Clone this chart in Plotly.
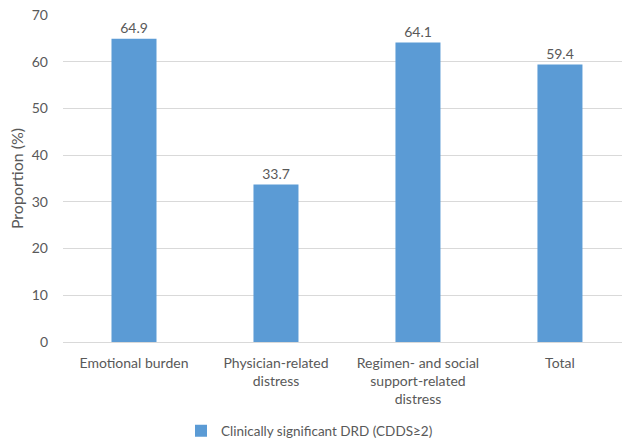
import plotly.graph_objects as go

categories = ["Emotional burden", "Physician-related<br>distress",
              "Regimen- and social<br>support-related<br>distress", "Total"]
proportions = [64.9, 33.7, 64.1, 59.4]
series_name = "Clinically significant DRD (CDDS≥2)"
y_ticks = [0, 10, 20, 30, 40, 50, 60, 70]

font_family = "Lato, Carlito, 'Liberation Sans', sans-serif"
text_color = "#595959"
bar_color = "#5B9BD5"

fig = go.Figure()
fig.add_trace(go.Bar(
    x=list(range(len(categories))),
    y=proportions,
    name=series_name,
    marker=dict(color=bar_color, line=dict(width=0)),
    width=0.317,
    text=[f"{v:.1f}" for v in proportions],
    textposition="outside",
    textfont=dict(size=14, color=text_color, family=font_family),
    cliponaxis=False,
    showlegend=True,
))

fig.update_layout(
    width=622, height=439,
    margin=dict(l=63, r=0, t=15, b=97),
    paper_bgcolor="white", plot_bgcolor="white",
    font=dict(family=font_family, size=14, color=text_color),
    xaxis=dict(
        tickmode="array",
        tickvals=list(range(len(categories))),
        ticktext=categories,
        range=[-0.5, 3.437],
        showgrid=False, zeroline=False,
        showline=False, ticks="",
        ticklabelstandoff=11,
        automargin=False,
        tickfont=dict(size=14, color=text_color),
    ),
    yaxis=dict(
        range=[0, 70],
        tickvals=y_ticks,
        showgrid=True, gridcolor="#D9D9D9", gridwidth=1,
        zeroline=True, zerolinecolor="#D9D9D9", zerolinewidth=1,
        showline=False, ticks="",
        ticklabelstandoff=14,
        automargin=False,
        title=dict(text="Proportion (%)", font=dict(size=16, color=text_color), standoff=4),
        tickfont=dict(size=14, color=text_color),
    ),
    legend=dict(
        orientation="h",
        xref="container", yref="container",
        x=0.291, xanchor="left",
        y=0.018, yanchor="middle",
        font=dict(size=13.5, color=text_color),
        itemwidth=30,
    ),
    bargap=0.1,
)

fig.write_html("out.html")
